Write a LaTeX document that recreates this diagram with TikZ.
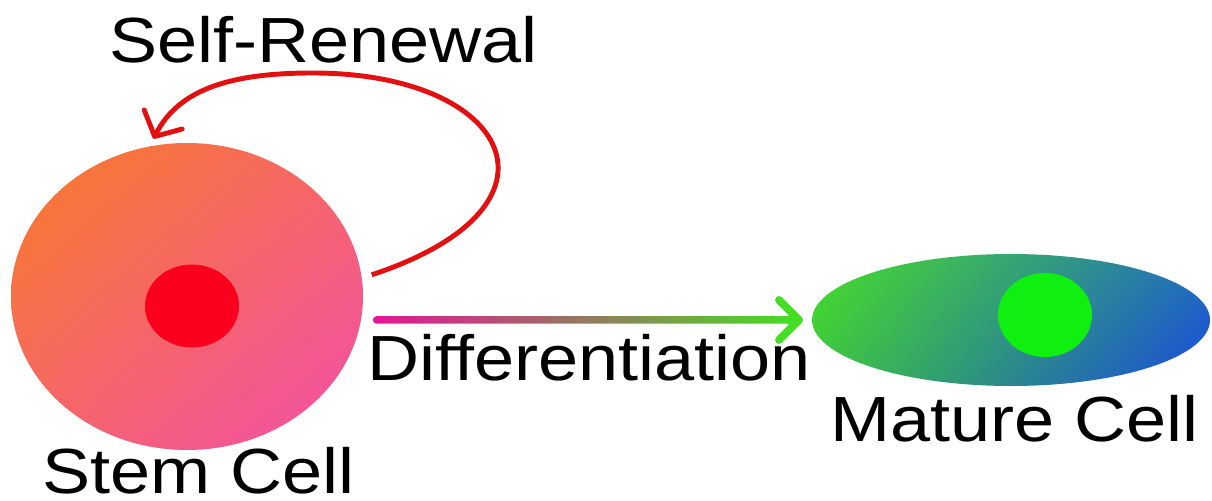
\documentclass[tikz,border=0pt]{standalone}
\usepackage{fontspec}
\setmainfont{Liberation Sans}[FakeStretch=1.13]
\usetikzlibrary{shapes.geometric,arrows.meta,shadings}

\definecolor{stemorange}{RGB}{248,124,40}
\definecolor{stemmid}{RGB}{246,102,104}
\definecolor{stempink}{RGB}{242,78,172}
\definecolor{nucred}{RGB}{250,0,30}
\definecolor{matgreen}{RGB}{72,222,40}
\definecolor{matteal}{RGB}{60,196,64}
\definecolor{matsea}{RGB}{36,112,186}
\definecolor{matblue}{RGB}{24,72,222}
\definecolor{nucgreen}{RGB}{16,240,16}
\definecolor{diffpink}{RGB}{228,20,152}
\definecolor{diffgreen}{RGB}{70,222,36}
\definecolor{renewred}{RGB}{226,16,16}

\begin{document}
\begin{tikzpicture}[
	cell/.style={ellipse, inner sep=0pt, outer sep=0pt},
	lbl/.style={font=\fontsize{36.3}{40}\selectfont, anchor=base west, inner sep=0pt}]
	\useasboundingbox (0,0) rectangle (24.24,10.02);
	\node[cell, minimum width=7.04cm, minimum height=6.14cm, upper left=stemorange, upper right=stemmid, lower left=stemmid, lower right=stempink] (stem) at (3.74,4.09) {};
	\node[cell, minimum width=1.88cm, minimum height=1.66cm, fill=nucred] (stemcore) at (3.84,3.90) {};
	\node[cell, minimum width=7.96cm, minimum height=2.64cm, upper left=matgreen, lower left=matteal, upper right=matsea, lower right=matblue] (mature) at (20.22,3.62) {};
	\node[cell, minimum width=1.88cm, minimum height=1.68cm, fill=nucgreen] (maturecore) at (20.90,3.72) {};
	\draw[renewred, line width=2.8pt, -{Straight Barb[length=0.38cm, width=0.85cm, round]}, shorten <=6pt, shorten >=5pt] (stem.6) .. controls (11.6,5.9) and (10.2,8.56) .. (6.26,8.56) .. controls (4.76,8.56) and (3.6,8.3) .. (stem.104);
	\coordinate (tail) at ([xshift=0.2cm]stem.east |- mature.west);
	\coordinate (tip) at ([xshift=-0.18cm]mature.west);
	\shade[left color=diffpink, right color=diffgreen, rounded corners=0.07cm] ([yshift=-0.075cm]tail) rectangle ([xshift=-0.1cm,yshift=0.075cm]tip);
	\draw[diffgreen, line width=4.5pt, line cap=round, -{Straight Barb[length=0.4cm, width=0.8cm, round]}] ([xshift=-0.3cm]tip) -- (tip);
	\node[lbl] (renew) at (2.18,8.76) {Self-Renewal};
	\node[lbl] (diff) at (7.34,2.40) {Differentiation};
	\node[lbl] (stemname) at (0.84,0.14) {Stem Cell};
	\node[lbl] (maturename) at (16.60,1.18) {Mature Cell};
\end{tikzpicture}
\end{document}
